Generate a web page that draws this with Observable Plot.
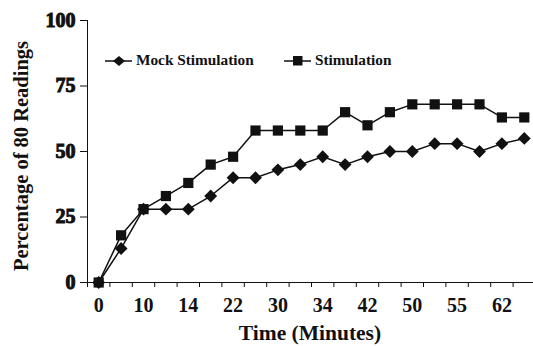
<!DOCTYPE html>
<html>
<head>
<meta charset="utf-8">
<script src="https://cdn.jsdelivr.net/npm/d3@7"></script>
<script src="https://cdn.jsdelivr.net/npm/@observablehq/plot@0.6"></script>
<style>
  html, body { margin: 0; padding: 0; background: #fff; }
  #wrap { position: relative; width: 533px; height: 346px; overflow: hidden; font-family: "Liberation Serif", "Times New Roman", serif; }
  .legend { position: absolute; top: 51px; display: flex; align-items: center; font-weight: bold; font-size: 15.3px; color: #111; white-space: nowrap; line-height: 18px; }
  .legend svg { display: block; margin-right: 3px; }
</style>
</head>
<body>
<div id="wrap"></div>
<script>
// Category index positions (0..19) with labels shown on every other category
const tickLabels = ["0", "", "10", "", "14", "", "22", "", "30", "", "34", "", "42", "", "50", "", "55", "", "62", ""];
const mock = [0, 13, 28, 28, 28, 33, 40, 40, 43, 45, 48, 45, 48, 50, 50, 53, 53, 50, 53, 55];
const stim = [0, 18, 28, 33, 38, 45, 48, 58, 58, 58, 58, 65, 60, 65, 68, 68, 68, 68, 63, 63];
const seriesNames = ["Mock Stimulation", "Stimulation"];
const yTicks = [0, 25, 50, 75, 100];

const idx = tickLabels.map((_, i) => i);
const mockData = idx.map(i => ({i, v: mock[i]}));
const stimData = idx.map(i => ({i, v: stim[i]}));
const labelData = idx.filter(i => tickLabels[i] !== "").map(i => ({i, t: tickLabels[i]}));
const betweenTicks = d3.range(-0.5, tickLabels.length, 1);

const ink = "#111";
const serif = "'Liberation Serif', 'Times New Roman', serif";
const chart = Plot.plot({
  width: 533,
  height: 346,
  marginTop: 20,
  marginBottom: 64,
  marginLeft: 87,
  marginRight: 0,
  style: {fontFamily: serif, fontWeight: "bold", fontSize: "20px", color: ink, background: "white", overflow: "visible"},
  x: {domain: [-0.5, tickLabels.length - 0.5], range: [87, 535], ticks: betweenTicks, tickFormat: () => "", tickSize: 5, label: null},
  y: {domain: [0, 100], ticks: yTicks, tickSize: 7, tickPadding: 5, label: null},
  marks: [
    Plot.ruleY([0], {stroke: ink, strokeWidth: 1}),
    Plot.ruleX([-0.5], {y1: 0, y2: 100, stroke: ink, strokeWidth: 1}),
    Plot.text(labelData, {x: "i", y: () => 0, text: "t", dy: 23, fontSize: 20, fontWeight: "bold", fontFamily: serif, fill: ink}),
    Plot.line(mockData, {x: "i", y: "v", stroke: ink, strokeWidth: 1.5}),
    Plot.line(stimData, {x: "i", y: "v", stroke: ink, strokeWidth: 1.5}),
    Plot.dot(mockData, {x: "i", y: "v", symbol: "diamond2", r: 5.8, fill: ink, stroke: "none"}),
    Plot.dot(stimData, {x: "i", y: "v", symbol: "square2", r: 6.5, fill: ink, stroke: "none"})
  ]
});

const wrap = document.getElementById("wrap");
wrap.appendChild(chart);

const svg = d3.select(chart);
// Make the y axis tick labels bold and large
svg.selectAll("g[aria-label^='y-axis'] text")
  .style("font-size", "20px").style("font-weight", "bold").style("font-family", serif).attr("fill", ink);
svg.selectAll("g[aria-label^='y-axis'], g[aria-label^='x-axis']").attr("stroke", ink);

// Axis titles
svg.append("text")
  .attr("x", 310).attr("y", 340)
  .attr("text-anchor", "middle")
  .style("font-size", "21.5px").style("font-weight", "bold").style("font-family", serif).attr("fill", ink)
  .text("Time (Minutes)");
svg.append("text")
  .attr("transform", "translate(28,156) rotate(-90)")
  .attr("text-anchor", "middle")
  .style("font-size", "20.5px").style("font-weight", "bold").style("font-family", serif).attr("fill", ink)
  .text("Percentage of 80 Readings");

// Legend
function legendItem(left, name, shape) {
  const div = document.createElement("div");
  div.className = "legend";
  div.style.left = left + "px";
  const ns = "http://www.w3.org/2000/svg";
  const s = document.createElementNS(ns, "svg");
  s.setAttribute("width", 28); s.setAttribute("height", 18);
  const l = document.createElementNS(ns, "line");
  l.setAttribute("x1", 0); l.setAttribute("x2", 27); l.setAttribute("y1", 10); l.setAttribute("y2", 10);
  l.setAttribute("stroke", ink); l.setAttribute("stroke-width", 1.5);
  s.appendChild(l);
  const p = document.createElementNS(ns, "path");
  p.setAttribute("d", shape === "diamond" ? "M14,5L20,10L14,15L8,10Z" : "M9,5H18.5V14.5H9Z");
  p.setAttribute("fill", ink);
  s.appendChild(p);
  div.appendChild(s);
  const sp = document.createElement("span");
  sp.textContent = name;
  div.appendChild(sp);
  wrap.appendChild(div);
}
legendItem(105, seriesNames[0], "diamond");
legendItem(284, seriesNames[1], "square");
</script>
</body>
</html>
